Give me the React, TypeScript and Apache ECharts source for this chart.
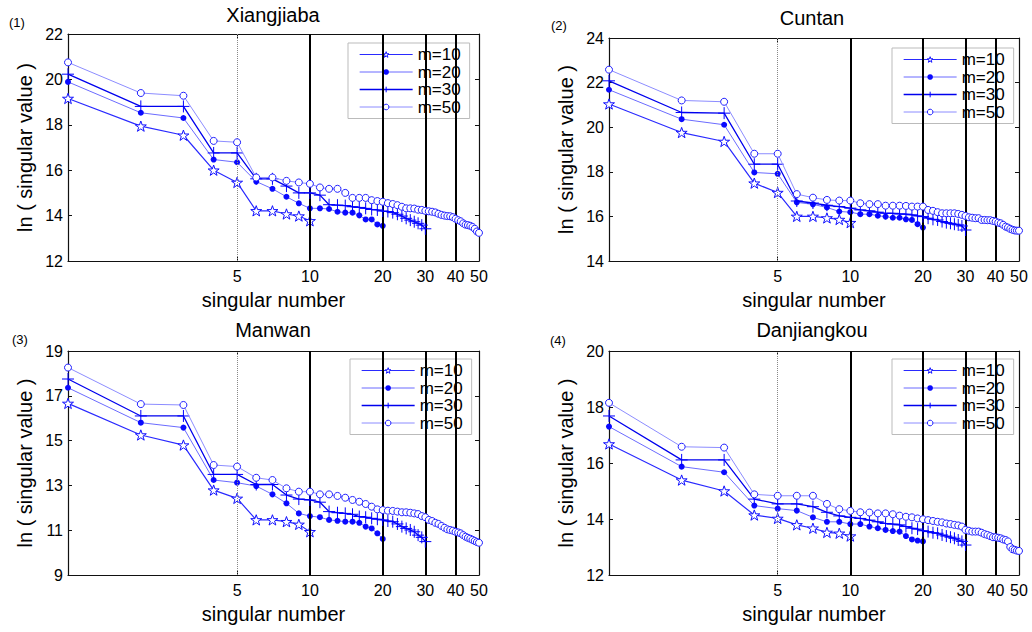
import React, { useEffect, useRef } from 'react';
import * as echarts from 'echarts';

// ---------- data ----------
const stations = ['Xiangjiaba', 'Cuntan', 'Manwan', 'Danjiangkou'];
const panelTags = ['(1)', '(2)', '(3)', '(4)'];
const seriesNames = ['m=10', 'm=20', 'm=30', 'm=50'];
const xTickValues = [5, 10, 20, 30, 40, 50];
const refLineValues = [5, 10, 20, 30, 40];
const yMins = [12, 14, 9, 12];
const yMaxs = [22, 24, 19, 20];
const yIntervals = [2, 2, 2, 2];

const xiangjiaba_m10 = [19.16, 17.94, 17.54, 16.0, 15.46, 14.21, 14.21, 14.07, 13.98, 13.77];
const xiangjiaba_m20 = [19.89, 18.53, 18.3, 16.47, 16.35, 15.5, 15.18, 14.83, 14.54, 14.32, 14.32, 14.29, 14.17, 14.13, 14.13, 14.01, 13.83, 13.83, 13.61, 13.55];
const xiangjiaba_m30 = [20.23, 18.81, 18.81, 16.76, 16.76, 15.62, 15.62, 15.3, 15.0, 15.0, 14.9, 14.48, 14.46, 14.44, 14.39, 14.36, 14.32, 14.27, 14.25, 14.2, 14.18, 14.13, 14.06, 13.98, 13.88, 13.8, 13.73, 13.66, 13.58, 13.42];
const xiangjiaba_m50 = [20.75, 19.4, 19.28, 17.29, 17.23, 15.68, 15.68, 15.53, 15.46, 15.4, 15.24, 15.18, 15.18, 15.0, 14.78, 14.78, 14.78, 14.68, 14.64, 14.61, 14.55, 14.51, 14.46, 14.39, 14.32, 14.32, 14.31, 14.26, 14.25, 14.21, 14.19, 14.17, 14.14, 14.08, 14.03, 14.0, 13.98, 13.97, 13.93, 13.86, 13.8, 13.75, 13.66, 13.6, 13.58, 13.55, 13.5, 13.42, 13.3, 13.24];

const cuntan_m10 = [21.04, 19.76, 19.36, 17.49, 17.07, 16.0, 16.0, 15.93, 15.86, 15.72];
const cuntan_m20 = [21.68, 20.36, 20.11, 17.97, 17.91, 16.63, 16.54, 16.4, 16.22, 16.19, 16.1, 16.1, 16.03, 15.99, 15.94, 15.94, 15.87, 15.84, 15.65, 15.5];
const cuntan_m30 = [22.08, 20.66, 20.63, 18.34, 18.34, 16.69, 16.6, 16.5, 16.44, 16.37, 16.29, 16.25, 16.19, 16.14, 16.14, 16.11, 16.1, 16.07, 16.02, 15.99, 15.92, 15.87, 15.84, 15.77, 15.72, 15.69, 15.65, 15.62, 15.57, 15.39];
const cuntan_m50 = [22.58, 21.2, 21.14, 18.81, 18.81, 17.0, 16.84, 16.74, 16.71, 16.71, 16.59, 16.55, 16.55, 16.48, 16.48, 16.48, 16.47, 16.44, 16.44, 16.44, 16.29, 16.25, 16.19, 16.14, 16.14, 16.14, 16.14, 16.11, 16.07, 16.02, 15.96, 15.94, 15.92, 15.92, 15.84, 15.84, 15.83, 15.83, 15.8, 15.77, 15.72, 15.69, 15.62, 15.54, 15.5, 15.44, 15.4, 15.37, 15.36, 15.36];

const manwan_m10 = [16.66, 15.25, 14.8, 12.79, 12.42, 11.46, 11.46, 11.38, 11.26, 10.93];
const manwan_m20 = [17.36, 15.8, 15.58, 13.24, 13.12, 12.97, 12.6, 12.2, 11.75, 11.63, 11.58, 11.46, 11.42, 11.38, 11.38, 11.33, 11.16, 11.08, 10.86, 10.61];
const manwan_m30 = [17.75, 16.1, 16.1, 13.49, 13.49, 13.04, 13.04, 12.57, 12.39, 12.35, 12.25, 11.83, 11.78, 11.75, 11.71, 11.61, 11.58, 11.53, 11.49, 11.46, 11.41, 11.38, 11.28, 11.16, 11.08, 11.01, 10.93, 10.78, 10.68, 10.49];
const manwan_m50 = [18.26, 16.63, 16.59, 13.91, 13.84, 13.34, 13.24, 12.87, 12.72, 12.72, 12.6, 12.6, 12.53, 12.45, 12.35, 12.27, 12.17, 12.05, 11.93, 11.9, 11.87, 11.86, 11.83, 11.8, 11.8, 11.78, 11.75, 11.72, 11.63, 11.58, 11.46, 11.41, 11.33, 11.28, 11.19, 11.11, 11.04, 11.01, 10.98, 10.93, 10.9, 10.86, 10.78, 10.71, 10.66, 10.62, 10.57, 10.52, 10.47, 10.44];

const danjiangkou_m10 = [16.68, 15.39, 15.0, 14.14, 14.02, 13.79, 13.67, 13.52, 13.49, 13.39];
const danjiangkou_m20 = [17.3, 15.87, 15.67, 14.48, 14.37, 14.3, 14.06, 13.9, 13.9, 13.82, 13.82, 13.73, 13.67, 13.61, 13.57, 13.55, 13.39, 13.27, 13.23, 13.2];
const danjiangkou_m30 = [17.68, 16.11, 16.11, 14.71, 14.54, 14.54, 14.44, 14.24, 14.11, 14.06, 14.02, 13.96, 13.9, 13.84, 13.82, 13.79, 13.73, 13.67, 13.64, 13.58, 13.55, 13.51, 13.49, 13.43, 13.39, 13.35, 13.31, 13.25, 13.2, 13.07];
const danjiangkou_m50 = [18.15, 16.58, 16.55, 14.88, 14.83, 14.83, 14.83, 14.54, 14.35, 14.29, 14.24, 14.23, 14.2, 14.2, 14.17, 14.12, 14.08, 14.06, 14.02, 13.99, 13.96, 13.93, 13.9, 13.88, 13.84, 13.82, 13.79, 13.77, 13.73, 13.61, 13.58, 13.55, 13.55, 13.55, 13.51, 13.46, 13.43, 13.39, 13.35, 13.35, 13.33, 13.31, 13.27, 13.25, 13.2, 13.0, 12.92, 12.9, 12.87, 12.86];

const panelSeries = [
  [xiangjiaba_m10, xiangjiaba_m20, xiangjiaba_m30, xiangjiaba_m50],
  [cuntan_m10, cuntan_m20, cuntan_m30, cuntan_m50],
  [manwan_m10, manwan_m20, manwan_m30, manwan_m50],
  [danjiangkou_m10, danjiangkou_m20, danjiangkou_m30, danjiangkou_m50],
];

// ---------- layout / style ----------
const FONT = '"Liberation Sans", Arial, Helvetica, sans-serif';
const grids = [
  { left: 68, top: 34, width: 411, height: 227 },
  { left: 609, top: 38, width: 410, height: 223 },
  { left: 68, top: 351, width: 411, height: 224 },
  { left: 609, top: 351, width: 410, height: 224 },
];
const titlePos = [
  { x: 273, y: 15 },
  { x: 812, y: 18 },
  { x: 273, y: 330 },
  { x: 812, y: 330 },
];
const tagPos = [
  { x: 9, y: 22 },
  { x: 551, y: 25 },
  { x: 12, y: 339 },
  { x: 550, y: 340 },
];
const legendPos = [
  { left: 348, top: 43 },
  { left: 892, top: 48 },
  { left: 350, top: 359 },
  { left: 892, top: 359 },
];

const STAR = 'path://M50,2 L61.8,36.2 L97.6,36.2 L68.6,57.4 L79.4,91.6 L50,70.6 L20.6,91.6 L31.4,57.4 L2.4,36.2 L38.2,36.2 Z';
const PLUS = 'path://M0,50 L100,50 M50,0 L50,100';

const seriesStyles = [
  { symbol: STAR, symbolSize: 11, line: { color: '#2a2aff', width: 1.2 }, item: { color: '#ffffff', borderColor: '#1010ff', borderWidth: 1 } },
  { symbol: 'circle', symbolSize: 6, line: { color: '#6b6bff', width: 1 }, item: { color: '#0a0aff', borderColor: '#0a0aff', borderWidth: 0 } },
  { symbol: PLUS, symbolSize: 12, line: { color: '#0000ee', width: 1.3 }, item: { color: '#0000ff', borderColor: '#0000ff', borderWidth: 1 } },
  { symbol: 'circle', symbolSize: 7, line: { color: '#8c8cff', width: 1 }, item: { color: '#ffffff', borderColor: '#2020ff', borderWidth: 1 } },
];

function buildOption() {
  const xAxis: any[] = [];
  const yAxis: any[] = [];
  const series: any[] = [];
  const graphic: any[] = [];
  const legend: any[] = [];

  grids.forEach((g, i) => {
    xAxis.push({
      type: 'log', logBase: 10, gridIndex: i, min: 1, max: 50, position: 'bottom',
      name: 'singular number', nameLocation: 'middle', nameGap: 29,
      nameTextStyle: { fontSize: 20, color: '#000', fontFamily: FONT },
      axisLine: { show: true, lineStyle: { color: '#111', width: 1.2 } },
      axisTick: { show: true, inside: true, length: 4, customValues: refLineValues, lineStyle: { color: '#111' } },
      axisLabel: { show: true, customValues: xTickValues, margin: 7, fontSize: 16, color: '#000', fontFamily: FONT },
      minorTick: { show: false }, splitLine: { show: false }, minorSplitLine: { show: false },
    });
    yAxis.push({
      type: 'value', gridIndex: i, min: yMins[i], max: yMaxs[i], interval: yIntervals[i], position: 'left',
      name: 'ln ( singular value )', nameLocation: 'middle', nameGap: 33, nameRotate: 90,
      nameTextStyle: { fontSize: 20, color: '#000', fontFamily: FONT },
      axisLine: { show: true, lineStyle: { color: '#111', width: 1.2 } },
      axisTick: { show: true, inside: true, length: 4, lineStyle: { color: '#111' } },
      axisLabel: { show: true, margin: 5, fontSize: 16, color: '#000', fontFamily: FONT },
      splitLine: { show: false },
    });
  });
  grids.forEach((g, i) => {
    xAxis.push({
      type: 'log', logBase: 10, gridIndex: i, min: 1, max: 50, position: 'top',
      axisLine: { show: true, onZero: false, lineStyle: { color: '#111', width: 1.2 } },
      axisTick: { show: true, inside: true, length: 4, customValues: refLineValues, lineStyle: { color: '#111' } },
      axisLabel: { show: false }, splitLine: { show: false }, minorTick: { show: false },
    });
    yAxis.push({
      type: 'value', gridIndex: i, min: yMins[i], max: yMaxs[i], interval: yIntervals[i], position: 'right',
      axisLine: { show: true, onZero: false, lineStyle: { color: '#111', width: 1.2 } },
      axisTick: { show: true, inside: true, length: 4, lineStyle: { color: '#111' } },
      axisLabel: { show: false }, splitLine: { show: false },
    });
  });

  panelSeries.forEach((group, p) => {
    group.forEach((vals, k) => {
      const st = seriesStyles[k];
      const s: any = {
        type: 'line', name: seriesNames[k], xAxisIndex: p, yAxisIndex: p,
        data: vals.map((v, idx) => [idx + 1, v]),
        symbol: st.symbol, symbolSize: st.symbolSize, symbolKeepAspect: true,
        showAllSymbol: true,
        lineStyle: st.line, itemStyle: st.item,
        emphasis: { disabled: true }, silent: true, z: 3 + k,
      };
      if (k === 0) {
        s.markLine = {
          silent: true, symbol: ['none', 'none'], label: { show: false }, animation: false,
          data: refLineValues.map((v, j) => ({
            xAxis: v,
            lineStyle: j === 0
              ? { color: '#888', width: 1, type: 'dotted' }
              : { color: '#000', width: 2, type: 'solid' },
          })),
        };
      }
      series.push(s);
    });

    graphic.push({
      type: 'text', x: titlePos[p].x, y: titlePos[p].y, silent: true,
      style: { text: stations[p], fill: '#000', font: `20px ${FONT}`, align: 'center', verticalAlign: 'middle' },
    });
    graphic.push({
      type: 'text', x: tagPos[p].x, y: tagPos[p].y, silent: true,
      style: { text: panelTags[p], fill: '#000', font: `13px ${FONT}`, align: 'left', verticalAlign: 'middle' },
    });

    legend.push({
      show: true, orient: 'vertical', left: legendPos[p].left, top: legendPos[p].top,
      data: seriesNames.map((n, k) => ({
        name: n,
        itemStyle: { ...seriesStyles[k].item },
        lineStyle: { ...seriesStyles[k].line },
      })),
      selectedMode: false,
      itemWidth: 53, itemHeight: 7, itemGap: 0.5,
      backgroundColor: '#fff', borderColor: '#bbb', borderWidth: 1, borderRadius: 0,
      padding: [3, 9, 3, 11],
      textStyle: { fontSize: 17, color: '#000', fontFamily: FONT, lineHeight: 15.5 },
    });
  });

  return {
    animation: false,
    backgroundColor: '#fff',
    textStyle: { fontFamily: FONT },
    grid: grids.map((g) => ({ ...g, containLabel: false, outerBoundsMode: 'none' })),
    xAxis, yAxis, series, legend, graphic,
  };
}

export default function App() {
  const ref = useRef<HTMLDivElement>(null);
  useEffect(() => {
    document.body.style.margin = '0';
    if (!ref.current) return;
    const chart = echarts.init(ref.current, null, { renderer: 'svg' });
    chart.setOption(buildOption() as any);
    return () => chart.dispose();
  }, []);
  return <div ref={ref} style={{ width: 1032, height: 632 }} />;
}
